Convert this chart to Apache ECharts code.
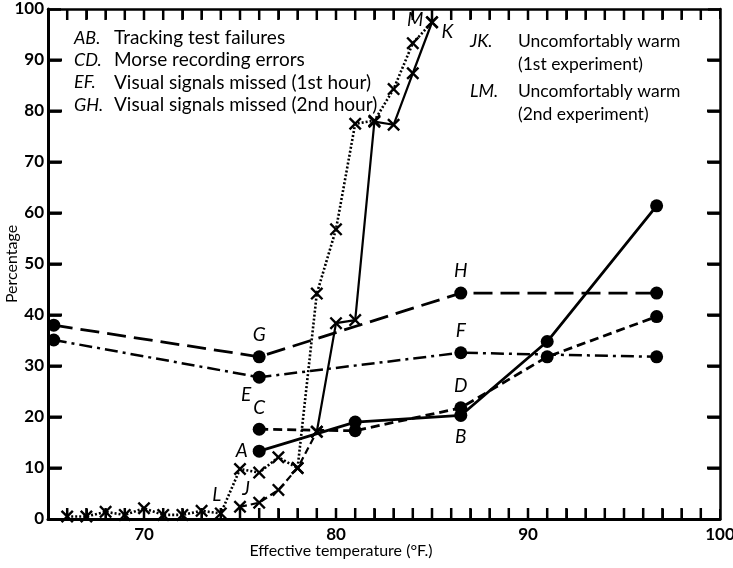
<!DOCTYPE html>
<html>
<head>
<meta charset="utf-8">
<script src="https://cdn.jsdelivr.net/npm/echarts@6/dist/echarts.min.js"></script>
<style>html,body{margin:0;padding:0;background:#fff}#c{width:733px;height:568px}</style>
</head>
<body>
<div id="c"></div>
<script>
// ---- data ----
const abX = [76, 81, 86.5, 91, 96.7];
const abY = [13.3, 19.0, 20.3, 34.8, 61.4];
const cdX = [76, 81, 86.5, 91, 96.7];
const cdY = [17.6, 17.3, 21.8, 31.8, 39.7];
const efX = [65.3, 76, 86.5, 96.7];
const efY = [35.1, 27.8, 32.6, 31.8];
const ghX = [65.3, 76, 86.5, 96.7];
const ghY = [38.0, 31.8, 44.3, 44.3];
const jkX = [75, 76, 77, 78, 79, 80, 81, 82, 83, 84, 85];
const jkY = [2.4, 3.2, 5.7, 10.0, 17.1, 38.4, 39.0, 77.9, 77.3, 87.4, 97.4];
const lmX = [66, 67, 68, 69, 70, 71, 72, 73, 74, 75, 76, 77, 78, 79, 80, 81, 82, 83, 84, 85];
const lmY = [0.5, 0.5, 1.4, 0.8, 2.1, 0.8, 0.8, 1.6, 1.1, 9.8, 9.1, 12.1, 10.0, 44.2, 56.8, 77.5, 78.1, 84.3, 93.3, 97.4];
const xTickLabels = [70, 80, 90, 100];
const yTickLabels = [0, 10, 20, 30, 40, 50, 60, 70, 80, 90, 100];
const keyLeft = [
  ['AB.', 'Tracking test failures'],
  ['CD.', 'Morse recording errors'],
  ['EF.', 'Visual signals missed (1st hour)'],
  ['GH.', 'Visual signals missed (2nd hour)']
];
const keyRight = [
  ['JK.', 'Uncomfortably warm', '(1st experiment)'],
  ['LM.', 'Uncomfortably warm', '(2nd experiment)']
];

// ---- axis ranges ----
const X_MIN = 65, X_MAX = 100, X_STEP = 1;
const Y_MIN = 0, Y_MAX = 100, Y_STEP = 10;
const xTickVals = [];
for (let v = X_MIN + X_STEP; v < X_MAX; v += X_STEP) xTickVals.push(v);
const yTickVals = [];
for (let v = Y_MIN + Y_STEP; v < Y_MAX; v += Y_STEP) yTickVals.push(v);

// ---- build ----
const FONT = 'Lato, "Open Sans", sans-serif';
const letterStyle = {show: true, color: '#000', fontFamily: FONT, fontStyle: 'italic', fontSize: 19};
function pts(xs, ys, labels) {
  return xs.map((x, i) => {
    const d = {value: [x, ys[i]]};
    if (labels && labels[i]) d.label = Object.assign({}, letterStyle, labels[i]);
    return d;
  });
}
const cross = 'path://M0,1.3 L1.3,0 L5,3.7 L8.7,0 L10,1.3 L6.3,5 L10,8.7 L8.7,10 L5,6.3 L1.3,10 L0,8.7 L3.7,5 Z';

const circ = {symbol: 'circle', symbolSize: 13, itemStyle: {color: '#000'}};
const crs = {symbol: cross, symbolSize: 13, itemStyle: {color: '#000'}};

// axis tick marks: a line series whose point markers are thin bars at each tick value
function tickSeries(data, size, offset) {
  return {type: 'line', z: 6, silent: true, clip: false, showSymbol: true, showAllSymbol: true,
    symbol: 'rect', symbolSize: size, symbolOffset: offset,
    lineStyle: {opacity: 0, width: 0}, itemStyle: {color: '#000', borderWidth: 0},
    emphasis: {disabled: true}, data: data};
}

const series = [
  Object.assign({type: 'line', z: 5,
    lineStyle: {color: '#000', width: 2.8, type: 'solid'},
    data: pts(abX, abY, {0: {formatter: 'A', position: 'left', distance: 5}, 2: {formatter: 'B', position: 'bottom', distance: 5}})}, circ),
  Object.assign({type: 'line', z: 5,
    lineStyle: {color: '#000', width: 2.8, type: [9, 5]},
    data: pts(cdX, cdY, {0: {formatter: 'C', position: 'top', distance: 5}, 2: {formatter: 'D', position: 'top', distance: 6}})}, circ),
  Object.assign({type: 'line', z: 5,
    lineStyle: {color: '#000', width: 2.5, type: [13, 5, 3, 5]},
    data: pts(efX, efY, {1: {formatter: 'E', position: 'bottom', distance: 2, offset: [-13, 0]}, 2: {formatter: 'F', position: 'top', distance: 6}})}, circ),
  Object.assign({type: 'line', z: 5,
    lineStyle: {color: '#000', width: 2.8, type: [19, 8]},
    data: pts(ghX, ghY, {1: {formatter: 'G', position: 'top', distance: 6}, 2: {formatter: 'H', position: 'top', distance: 6}})}, circ),
  Object.assign({type: 'line', z: 4,
    lineStyle: {color: '#000', width: 2.2, type: [7, 4]},
    data: pts(jkX.slice(0, 5), jkY.slice(0, 5), {0: {formatter: 'J', position: 'top', distance: 2, offset: [6, 0]}})}, crs),
  Object.assign({type: 'line', z: 4,
    lineStyle: {color: '#000', width: 2.2, type: 'solid'},
    data: pts(jkX.slice(4), jkY.slice(4), {6: {formatter: 'K', position: 'right', distance: 3, offset: [0, 10]}})}, crs),
  Object.assign({type: 'line', z: 4,
    lineStyle: {color: '#000', width: 2.6, type: [2, 2]},
    data: pts(lmX, lmY, {8: {formatter: 'L', position: 'top', distance: 3, offset: [-4, 0]}, 19: {formatter: 'M', position: 'left', distance: 2, offset: [0, -2]}})}, crs),
  tickSeries(xTickVals.map(v => [v, Y_MIN]), [2.5, 11], [0, -5.5]),
  tickSeries(xTickVals.map(v => [v, Y_MAX]), [2.5, 11], [0, 5.5]),
  tickSeries(yTickVals.map(v => [X_MIN, v]), [14, 3], [7, 0]),
  tickSeries(yTickVals.map(v => [X_MAX, v]), [13, 3], [-6.5, 0])
];
series.forEach(s => { s.animation = false; s.xAxisIndex = 0; s.yAxisIndex = 0; });

const graphic = [];
keyLeft.forEach((k, i) => {
  const y = 38 + i * 22.3;
  graphic.push({type: 'text', x: 74, y: y, style: {text: k[0], font: 'italic 18px ' + FONT, fill: '#000', verticalAlign: 'middle'}});
  graphic.push({type: 'text', x: 114, y: y, style: {text: k[1], font: '19px ' + FONT, fill: '#000', verticalAlign: 'middle'}});
});
keyRight.forEach((k, i) => {
  const y = 41 + i * 50;
  graphic.push({type: 'text', x: 470, y: y, style: {text: k[0], font: 'italic 18px ' + FONT, fill: '#000', verticalAlign: 'middle'}});
  graphic.push({type: 'text', x: 518, y: y, style: {text: k[1], font: '17.5px ' + FONT, fill: '#000', verticalAlign: 'middle'}});
  graphic.push({type: 'text', x: 518, y: y + 23, style: {text: k[2], font: '17.5px ' + FONT, fill: '#000', verticalAlign: 'middle'}});
});
graphic.push({type: 'text', x: 341, y: 551, style: {text: 'Effective temperature (°F.)', font: '16px ' + FONT, fill: '#000', align: 'center', verticalAlign: 'middle'}});

const axisFont = {color: '#000', fontFamily: FONT, fontSize: 17, fontWeight: 'bold'};
const tick = (len, w) => ({show: true, inside: true, length: len, lineStyle: {color: '#000', width: w}});
const option = {
  animation: false,
  backgroundColor: '#fff',
  grid: {left: 48, right: 13, top: 9, bottom: 49, containLabel: false, outerBoundsMode: 'none'},
  xAxis: [
    {type: 'value', position: 'bottom', min: X_MIN, max: X_MAX, interval: X_STEP,
      axisLine: {show: true, onZero: false, lineStyle: {color: '#000', width: 3}},
      axisTick: tick(10, 2),
      axisLabel: Object.assign({show: true, margin: 7, formatter: v => xTickLabels.indexOf(v) >= 0 ? String(v) : ''}, axisFont),
      splitLine: {show: false}},
    {type: 'value', position: 'top', min: X_MIN, max: X_MAX, interval: X_STEP,
      axisLine: {show: true, onZero: false, lineStyle: {color: '#000', width: 2.5}},
      axisTick: tick(10, 2),
      axisLabel: {show: false}, splitLine: {show: false}}
  ],
  yAxis: [
    {type: 'value', position: 'left', min: Y_MIN, max: Y_MAX, interval: Y_STEP,
      name: 'Percentage', nameLocation: 'middle', nameGap: 28, nameRotate: 90, nameMoveOverlap: false,
      nameTextStyle: {color: '#000', fontFamily: FONT, fontSize: 16},
      axisLine: {show: true, onZero: false, lineStyle: {color: '#000', width: 3}},
      axisTick: tick(13, 2.5),
      axisLabel: Object.assign({show: true, margin: 4, formatter: v => yTickLabels.indexOf(v) >= 0 ? String(v) : ''}, axisFont),
      splitLine: {show: false}},
    {type: 'value', position: 'right', min: Y_MIN, max: Y_MAX, interval: Y_STEP,
      axisLine: {show: true, onZero: false, lineStyle: {color: '#000', width: 2.5}},
      axisTick: tick(12, 2.5),
      axisLabel: {show: false}, splitLine: {show: false}}
  ],
  graphic: graphic,
  series: series
};
const chart = echarts.init(document.getElementById('c'), null, {renderer: 'canvas'});
chart.setOption(option);
</script>
</body>
</html>
